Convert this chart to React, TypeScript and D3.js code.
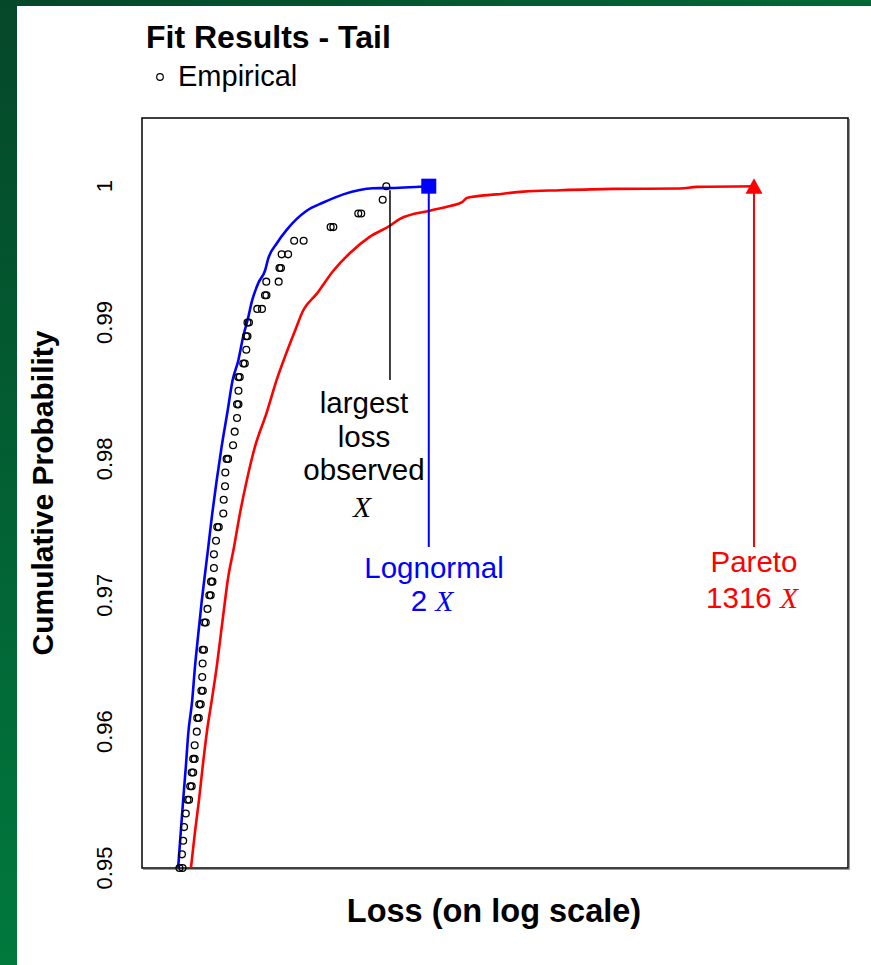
import React from "react";
import * as d3 from "d3";

// ---- data (loss in units where the largest observed loss X = 10000) ----
const largestLoss = 10000; // X
const lognormalMaxLoss = 21500; // ~2 X
const paretoMaxLoss = 13160000; // 1316 X

const empiricalLoss = [
  9300, 8660, 5350, 5670, 3100, 3270, 1510, 1820, 1180, 1340, 1130, 1164, 871, 1112,
  849, 874, 729, 800, 601, 619, 584, 601, 587, 553, 570, 501, 516, 503, 489, 503, 489,
  467, 452, 398, 410, 388, 386, 376, 373, 331, 341, 323, 310, 310, 293, 301, 283, 291,
  273, 256, 264, 248, 255, 248, 246, 242, 249, 232, 239, 223, 230, 221, 212, 206, 212,
  200, 206, 194, 200, 184, 190, 178, 172, 169, 165, 157, 167,
];
const empiricalProb = [
  1.0, 0.999, 0.998, 0.998, 0.997, 0.997, 0.996, 0.996, 0.995, 0.995, 0.994, 0.994, 0.993, 0.993,
  0.992, 0.992, 0.991, 0.991, 0.99, 0.99, 0.989, 0.989, 0.988, 0.987, 0.987, 0.986, 0.986, 0.985, 0.984, 0.984, 0.983,
  0.982, 0.981, 0.98, 0.98, 0.979, 0.978, 0.977, 0.976, 0.975, 0.975, 0.974, 0.973, 0.972, 0.971, 0.971, 0.97, 0.97,
  0.969, 0.968, 0.968, 0.966, 0.966, 0.965, 0.964, 0.963, 0.963, 0.962, 0.962, 0.961, 0.961, 0.96, 0.959, 0.958, 0.958,
  0.957, 0.957, 0.956, 0.956, 0.955, 0.955, 0.954, 0.953, 0.952, 0.951, 0.95, 0.95,
];

const lognormalLoss = [
  153, 161, 169, 178, 187, 202, 213, 228, 244, 256, 277, 300, 327, 361, 404, 449, 501, 553,
  611, 653, 744, 849, 906, 1069, 1302, 1933, 2682, 3979, 7151, 9370, 21500,
];
const lognormalProb = [
  0.95, 0.9526, 0.955, 0.9574, 0.9599, 0.9623, 0.9647, 0.9672, 0.9696, 0.9711, 0.9735, 0.976,
  0.9784, 0.9809, 0.9834, 0.9858, 0.9872, 0.989, 0.9904, 0.9915, 0.9929, 0.9938, 0.9947,
  0.9958, 0.9968, 0.9982, 0.9988, 0.9994, 0.99985, 0.99986, 1.0,
];

const paretoLoss = [
  197, 213, 231, 248, 269, 297, 327, 356, 386, 407, 460, 518, 592, 697, 878, 1069, 1260, 1535,
  1807, 2354, 3270, 4543, 6741, 10000, 12180, 22010, 32800, 41500, 46000, 82100, 138800,
  286200, 819000, 3055000, 4248000, 13160000,
];
const paretoProb = [
  0.95, 0.9526, 0.955, 0.9574, 0.9599, 0.9623, 0.9647, 0.9672, 0.9696, 0.9711, 0.9735, 0.976,
  0.9784, 0.9809, 0.9834, 0.9858, 0.9875, 0.9894, 0.9909, 0.9921, 0.9938, 0.9951, 0.9963,
  0.9971, 0.9976, 0.9982, 0.99855, 0.99883, 0.99915, 0.9994, 0.9996, 0.9997, 0.9998,
  0.99983, 0.99995, 1.0,
];

const yTicks = [0.95, 0.96, 0.97, 0.98, 0.99, 1];
const yTickLabels = ["0.95", "0.96", "0.97", "0.98", "0.99", "1"];

const W = 871;
const H = 965;
const L = 142, R = 848, T = 118, B = 868;
const SANS = "'Liberation Sans', Arial, Helvetica, sans-serif";
const SERIF = "'Liberation Serif', 'Times New Roman', serif";

export default function App() {
  const x = d3.scaleLog().domain([75, 8.41e7]).range([L, R]);
  const y = d3.scaleLinear().domain([0.95, 1.005]).range([B, T]);
  const line = d3
    .line<[number, number]>()
    .curve(d3.curveMonotoneX)
    .x((d) => x(d[0]))
    .y((d) => y(d[1]));
  const logPts = lognormalLoss.map((v, i) => [v, lognormalProb[i]] as [number, number]);
  const parPts = paretoLoss.map((v, i) => [v, paretoProb[i]] as [number, number]);

  const xBlack = x(largestLoss);
  const xBlue = x(lognormalMaxLoss);
  const xRed = x(paretoMaxLoss);
  const yTop = y(1);

  return (
    <svg
      width={W}
      height={H}
      style={{ position: "absolute", left: 0, top: 0, background: "#fff" }}
    >
      <defs>
        <linearGradient id="gl" x1="0" y1="0" x2="0" y2="1">
          <stop offset="0" stopColor="#054729" />
          <stop offset="1" stopColor="#00793d" />
        </linearGradient>
        <linearGradient id="gt" x1="0" y1="0" x2="1" y2="0">
          <stop offset="0" stopColor="#054729" />
          <stop offset="1" stopColor="#006836" />
        </linearGradient>
        <clipPath id="plot">
          <rect x={L} y={T} width={R - L} height={B - T} />
        </clipPath>
      </defs>
      <rect x={0} y={0} width={W} height={H} fill="#fff" />
      <rect x={0} y={0} width={W} height={6} fill="url(#gt)" />
      <rect x={0} y={0} width={17} height={H} fill="url(#gl)" />

      {/* title & legend */}
      <text x={146} y={48} fontFamily={SANS} fontWeight="bold" fontSize={32} fill="#000">
        Fit Results - Tail
      </text>
      <circle cx={160} cy={77} r={3.3} fill="none" stroke="#000" strokeWidth={1.2} />
      <text x={178} y={86} fontFamily={SANS} fontSize={29} fill="#000">
        Empirical
      </text>

      {/* frame */}
      <line x1={R + 1.5} y1={T + 1} x2={R + 1.5} y2={B + 1.5} stroke="#999" strokeWidth={1} />
      <line x1={L + 1} y1={B + 1.5} x2={R + 1.5} y2={B + 1.5} stroke="#999" strokeWidth={1} />
      <rect x={L} y={T} width={R - L} height={B - T} fill="none" stroke="#000" strokeWidth={1.5} />

      {/* y tick labels */}
      {yTicks.map((t, i) => (
        <text
          key={t}
          transform={`translate(112,${y(t)}) rotate(-90)`}
          textAnchor="middle"
          fontFamily={SANS}
          fontSize={22}
          fill="#000"
        >
          {yTickLabels[i]}
        </text>
      ))}

      {/* axis titles */}
      <text
        transform={`translate(53,${(T + B) / 2}) rotate(-90)`}
        textAnchor="middle"
        fontFamily={SANS}
        fontWeight="bold"
        fontSize={30}
        fill="#000"
      >
        Cumulative Probability
      </text>
      <text x={494} y={922} textAnchor="middle" fontFamily={SANS} fontWeight="bold" fontSize={32.5} fill="#000">
        Loss (on log scale)
      </text>

      {/* curves */}
      <g clipPath="url(#plot)">
        <path d={line(parPts) || ""} fill="none" stroke="#ff0000" strokeWidth={2.6} />
        <path d={line(logPts) || ""} fill="none" stroke="#0000ff" strokeWidth={2.6} />
      </g>

      {/* annotation lines */}
      <line x1={xBlack} y1={yTop + 4} x2={xBlack} y2={380} stroke="#000" strokeWidth={1.5} />
      <line x1={xBlue} y1={yTop} x2={xBlue} y2={547} stroke="#0000ff" strokeWidth={2} />
      <line x1={xRed} y1={yTop} x2={xRed} y2={547} stroke="#ff0000" strokeWidth={2} />

      {/* empirical points */}
      <g>
        {empiricalLoss.map((v, i) => (
          <circle
            key={i}
            cx={x(v)}
            cy={y(empiricalProb[i])}
            r={3.4}
            fill="none"
            stroke="#000"
            strokeWidth={1.3}
          />
        ))}
      </g>

      {/* end markers */}
      <rect x={xBlue - 7.5} y={yTop - 7.5} width={15} height={15} fill="#0000ff" />
      <path
        d={`M${xRed},${yTop - 8} L${xRed + 8.5},${yTop + 7.5} L${xRed - 8.5},${yTop + 7.5} Z`}
        fill="#ff0000"
      />

      {/* annotation texts */}
      <g fontFamily={SANS} fontSize={29.5} textAnchor="middle" fill="#000">
        <text x={364} y={413}>largest</text>
        <text x={364} y={447}>loss</text>
        <text x={364} y={480}>observed</text>
        <text x={362} y={517} fontFamily={SERIF} fontStyle="italic">X</text>
      </g>
      <g fontFamily={SANS} fontSize={29.5} textAnchor="middle" fill="#0000ff">
        <text x={434} y={578}>Lognormal</text>
        <text x={432} y={611}>
          2 <tspan fontFamily={SERIF} fontStyle="italic">X</tspan>
        </text>
      </g>
      <g fontFamily={SANS} fontSize={29.5} textAnchor="middle" fill="#ff0000">
        <text x={754} y={572}>Pareto</text>
        <text x={752} y={608}>
          1316 <tspan fontFamily={SERIF} fontStyle="italic">X</tspan>
        </text>
      </g>
    </svg>
  );
}
